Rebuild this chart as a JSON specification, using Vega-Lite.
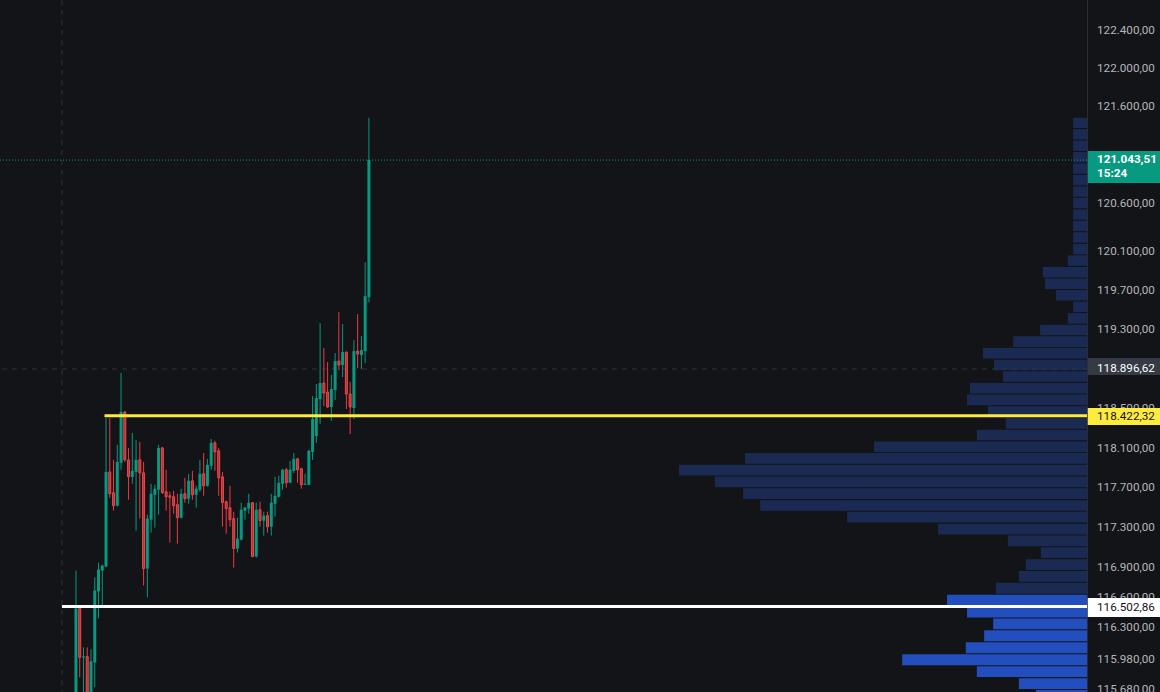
{
  "$schema": "https://vega.github.io/schema/vega-lite/v6.json",
  "width": 1087,
  "height": 692,
  "autosize": {"type": "none"},
  "padding": {"left": 0, "top": 0, "right": 73, "bottom": 0},
  "background": "#131417",
  "datasets": {
    "candles": [
      {"i":1,"o":115500,"h":116862,"l":115450,"c":116483},
      {"i":2,"o":116483,"h":116490,"l":115798,"c":115997},
      {"i":3,"o":115995,"h":116096,"l":115600,"c":116006},
      {"i":4,"o":116006,"h":116096,"l":115500,"c":115550},
      {"i":5,"o":115550,"h":116076,"l":115500,"c":115957},
      {"i":6,"o":115947,"h":116793,"l":115700,"c":116663},
      {"i":7,"o":116653,"h":116942,"l":116384,"c":116872},
      {"i":8,"o":116862,"h":116922,"l":116493,"c":116912},
      {"i":9,"o":116902,"h":118399,"l":116895,"c":117853},
      {"i":10,"o":117853,"h":118399,"l":117593,"c":117633},
      {"i":11,"o":117643,"h":117975,"l":117463,"c":117513},
      {"i":12,"o":117513,"h":118127,"l":117505,"c":117955},
      {"i":13,"o":117945,"h":118856,"l":117875,"c":118460},
      {"i":14,"o":118460,"h":118470,"l":117955,"c":117975},
      {"i":15,"o":117975,"h":118096,"l":117573,"c":117804},
      {"i":16,"o":117804,"h":118248,"l":117734,"c":117864},
      {"i":17,"o":117854,"h":118177,"l":117262,"c":117975},
      {"i":18,"o":117975,"h":118157,"l":117383,"c":117844},
      {"i":19,"o":117844,"h":117955,"l":116713,"c":116882},
      {"i":20,"o":116882,"h":117423,"l":116593,"c":117383},
      {"i":21,"o":117373,"h":117734,"l":117242,"c":117633},
      {"i":22,"o":117623,"h":117724,"l":117292,"c":117684},
      {"i":23,"o":117674,"h":118127,"l":117423,"c":118096},
      {"i":24,"o":118096,"h":118106,"l":117633,"c":117643},
      {"i":25,"o":117653,"h":117875,"l":117463,"c":117603},
      {"i":26,"o":117613,"h":117653,"l":117142,"c":117598},
      {"i":27,"o":117603,"h":117663,"l":117433,"c":117513},
      {"i":28,"o":117523,"h":117633,"l":117132,"c":117393},
      {"i":29,"o":117393,"h":117684,"l":117383,"c":117633},
      {"i":30,"o":117633,"h":117794,"l":117543,"c":117583},
      {"i":31,"o":117583,"h":117834,"l":117533,"c":117764},
      {"i":32,"o":117764,"h":117864,"l":117573,"c":117623},
      {"i":33,"o":117623,"h":117714,"l":117493,"c":117684},
      {"i":34,"o":117674,"h":117975,"l":117653,"c":117834},
      {"i":35,"o":117834,"h":118046,"l":117613,"c":117714},
      {"i":36,"o":117714,"h":117985,"l":117704,"c":117925},
      {"i":37,"o":117915,"h":118187,"l":117875,"c":118147},
      {"i":38,"o":118147,"h":118167,"l":117864,"c":118056},
      {"i":39,"o":118066,"h":118096,"l":117613,"c":117794},
      {"i":40,"o":117804,"h":117854,"l":117302,"c":117543},
      {"i":41,"o":117553,"h":117563,"l":117232,"c":117483},
      {"i":42,"o":117493,"h":117714,"l":117302,"c":117373},
      {"i":43,"o":117383,"h":117453,"l":116892,"c":117082},
      {"i":44,"o":117082,"h":117393,"l":117042,"c":117182},
      {"i":45,"o":117172,"h":117543,"l":117165,"c":117473},
      {"i":46,"o":117463,"h":117503,"l":117373,"c":117493},
      {"i":47,"o":117483,"h":117633,"l":117433,"c":117543},
      {"i":48,"o":117543,"h":117550,"l":116995,"c":117002},
      {"i":49,"o":117002,"h":117543,"l":116992,"c":117473},
      {"i":50,"o":117473,"h":117553,"l":117302,"c":117363},
      {"i":51,"o":117363,"h":117453,"l":117212,"c":117413},
      {"i":52,"o":117413,"h":117453,"l":117242,"c":117302},
      {"i":53,"o":117302,"h":117633,"l":117212,"c":117543},
      {"i":54,"o":117533,"h":117804,"l":117403,"c":117613},
      {"i":55,"o":117603,"h":117814,"l":117595,"c":117744},
      {"i":56,"o":117734,"h":117885,"l":117674,"c":117875},
      {"i":57,"o":117875,"h":117895,"l":117694,"c":117744},
      {"i":58,"o":117744,"h":117965,"l":117740,"c":117875},
      {"i":59,"o":117864,"h":118046,"l":117844,"c":117985},
      {"i":60,"o":117985,"h":117995,"l":117744,"c":117875},
      {"i":61,"o":117885,"h":117895,"l":117684,"c":117724},
      {"i":62,"o":117724,"h":117834,"l":117720,"c":117734},
      {"i":63,"o":117724,"h":118076,"l":117720,"c":118066},
      {"i":64,"o":118056,"h":118622,"l":117975,"c":118389},
      {"i":65,"o":118217,"h":118743,"l":118147,"c":118601},
      {"i":66,"o":118591,"h":119365,"l":118338,"c":118753},
      {"i":67,"o":118753,"h":119110,"l":118520,"c":118652},
      {"i":68,"o":118662,"h":118967,"l":118500,"c":118510},
      {"i":69,"o":118510,"h":118835,"l":118369,"c":118693},
      {"i":70,"o":118683,"h":119059,"l":118581,"c":118977},
      {"i":71,"o":118977,"h":119477,"l":118886,"c":118937},
      {"i":72,"o":118937,"h":119355,"l":118815,"c":119069},
      {"i":73,"o":119069,"h":119075,"l":118490,"c":118642},
      {"i":74,"o":118642,"h":118764,"l":118237,"c":118510},
      {"i":75,"o":118500,"h":119191,"l":118389,"c":119079},
      {"i":76,"o":119079,"h":119457,"l":118906,"c":119049},
      {"i":77,"o":119039,"h":119232,"l":118896,"c":119089},
      {"i":78,"o":119079,"h":119988,"l":118957,"c":119640},
      {"i":79,"o":119630,"h":121483,"l":119579,"c":121043.51}
    ],
    "profile": [
      {"hi":121483,"lo":121375,"vol":3.4,"zone":"main"},
      {"hi":121364,"lo":121256,"vol":3.4,"zone":"main"},
      {"hi":121246,"lo":121138,"vol":3.4,"zone":"main"},
      {"hi":121127,"lo":121019,"vol":3.4,"zone":"main"},
      {"hi":121009,"lo":120901,"vol":3.4,"zone":"main"},
      {"hi":120890,"lo":120782,"vol":3.4,"zone":"main"},
      {"hi":120771,"lo":120663,"vol":3.4,"zone":"main"},
      {"hi":120653,"lo":120545,"vol":3.4,"zone":"main"},
      {"hi":120534,"lo":120426,"vol":3.4,"zone":"main"},
      {"hi":120416,"lo":120308,"vol":3.4,"zone":"main"},
      {"hi":120297,"lo":120189,"vol":3.4,"zone":"main"},
      {"hi":120178,"lo":120070,"vol":3.4,"zone":"main"},
      {"hi":120060,"lo":119952,"vol":4.7,"zone":"main"},
      {"hi":119941,"lo":119833,"vol":10.8,"zone":"main"},
      {"hi":119823,"lo":119715,"vol":10.3,"zone":"main"},
      {"hi":119704,"lo":119596,"vol":7.6,"zone":"main"},
      {"hi":119585,"lo":119477,"vol":3.4,"zone":"main"},
      {"hi":119467,"lo":119359,"vol":4.7,"zone":"main"},
      {"hi":119348,"lo":119240,"vol":11.5,"zone":"main"},
      {"hi":119230,"lo":119122,"vol":18.1,"zone":"main"},
      {"hi":119111,"lo":119003,"vol":25.5,"zone":"main"},
      {"hi":118992,"lo":118884,"vol":22.8,"zone":"main"},
      {"hi":118874,"lo":118766,"vol":20.6,"zone":"main"},
      {"hi":118755,"lo":118647,"vol":28.7,"zone":"main"},
      {"hi":118637,"lo":118529,"vol":29.4,"zone":"main"},
      {"hi":118518,"lo":118410,"vol":24.3,"zone":"main"},
      {"hi":118399,"lo":118291,"vol":19.9,"zone":"main"},
      {"hi":118281,"lo":118173,"vol":27.0,"zone":"main"},
      {"hi":118162,"lo":118054,"vol":52.2,"zone":"main"},
      {"hi":118044,"lo":117936,"vol":83.8,"zone":"main"},
      {"hi":117925,"lo":117817,"vol":100,"zone":"main"},
      {"hi":117806,"lo":117698,"vol":91.2,"zone":"main"},
      {"hi":117688,"lo":117580,"vol":84.3,"zone":"main"},
      {"hi":117569,"lo":117461,"vol":80.1,"zone":"main"},
      {"hi":117451,"lo":117343,"vol":58.8,"zone":"main"},
      {"hi":117332,"lo":117224,"vol":36.5,"zone":"main"},
      {"hi":117213,"lo":117105,"vol":19.4,"zone":"main"},
      {"hi":117095,"lo":116987,"vol":11.3,"zone":"main"},
      {"hi":116976,"lo":116868,"vol":15.0,"zone":"main"},
      {"hi":116858,"lo":116750,"vol":16.7,"zone":"main"},
      {"hi":116739,"lo":116631,"vol":22.3,"zone":"main"},
      {"hi":116620,"lo":116512,"vol":34.3,"zone":"lower"},
      {"hi":116502,"lo":116394,"vol":29.4,"zone":"lower"},
      {"hi":116383,"lo":116275,"vol":23.0,"zone":"lower"},
      {"hi":116265,"lo":116157,"vol":25.2,"zone":"lower"},
      {"hi":116146,"lo":116038,"vol":29.7,"zone":"lower"},
      {"hi":116027,"lo":115919,"vol":45.3,"zone":"lower"},
      {"hi":115909,"lo":115801,"vol":27.0,"zone":"lower"},
      {"hi":115790,"lo":115682,"vol":16.7,"zone":"lower"},
      {"hi":115672,"lo":115564,"vol":12.5,"zone":"lower"}
    ],
    "ticks": [
      {"p":122400},{"p":122000},{"p":121600},{"p":121100},{"p":120600},{"p":120100},{"p":119700},{"p":119300},
      {"p":118500},{"p":118100},{"p":117700},{"p":117300},{"p":116900},{"p":116600},{"p":116300},{"p":115980},{"p":115680}
    ],
    "levels": [
      {"kind":"cross","p":118896.62},
      {"kind":"last","p":121043.51}
    ],
    "tags": [
      {"kind":"last","lo":120806,"hi":121137},
      {"kind":"cross","lo":118835,"hi":119008},
      {"kind":"high","lo":118327,"hi":118500},
      {"kind":"low","lo":116398,"hi":116587}
    ],
    "labels": [
      {"kind":"last","p":121054,"t":"121.043,51"},
      {"kind":"last","p":120909,"t":"15:24"},
      {"kind":"cross","p":118906,"t":"118.896,62"},
      {"kind":"high","p":118422.32,"t":"118.422,32"},
      {"kind":"low","p":116502.86,"t":"116.502,86"}
    ],
    "one": [{"a": 1}]
  },
  "layer": [
    {
      "data": {"name": "profile"},
      "mark": {"type": "rect"},
      "encoding": {
        "y": {"field": "lo", "type": "quantitative",
              "scale": {"type": "log", "domain": [115653, 122714], "nice": false, "zero": false, "padding": 0},
              "axis": null},
        "y2": {"field": "hi"},
        "x": {"field": "vol", "type": "quantitative", "scale": {"domain": [0, 266.4], "reverse": true, "nice": false, "zero": false, "padding": 0}, "axis": null},
        "x2": {"datum": 0},
        "color": {"field": "zone", "type": "nominal", "scale": {"domain": ["main", "lower"], "range": ["#1b2a53", "#234fbe"]}, "legend": null}
      }
    },
    {
      "layer": [
        {
          "data": {"name": "ticks"},
          "mark": {"type": "text", "align": "left", "baseline": "middle", "font": "Roboto", "fontSize": 11.7, "color": "#b2b5be"},
          "encoding": {
            "x": {"datum": 272.86, "type": "quantitative", "scale": {"domain": [-19.23, 270.2], "nice": false, "zero": false, "padding": 0}, "axis": null},
            "y": {"field": "p", "type": "quantitative", "scale": {"type": "log", "domain": [115653, 122714], "nice": false, "zero": false, "padding": 0}, "axis": null},
            "text": {"field": "p", "type": "quantitative", "format": ",.2f"}
          }
        },
        {
          "data": {"name": "one"},
          "mark": {"type": "rule", "color": "#2b2d33", "strokeWidth": 1},
          "encoding": {
            "x": {"datum": 270.33, "type": "quantitative", "scale": {"domain": [-19.23, 270.2], "nice": false, "zero": false, "padding": 0}, "axis": null}
          }
        },
        {
          "data": {"name": "one"},
          "mark": {"type": "rule", "color": "#2f323a", "strokeDash": [5, 5], "strokeWidth": 1},
          "encoding": {
            "x": {"datum": -2.73, "type": "quantitative", "scale": {"domain": [-19.23, 270.2], "nice": false, "zero": false, "padding": 0}, "axis": null}
          }
        },
        {
          "data": {"name": "levels"},
          "transform": [{"filter": "datum.kind == 'cross'"}],
          "mark": {"type": "rule", "color": "#2f323a", "strokeDash": [5, 5], "strokeWidth": 1},
          "encoding": {
            "y": {"field": "p", "type": "quantitative", "scale": {"type": "log", "domain": [115653, 122714], "nice": false, "zero": false, "padding": 0}, "axis": null}
          }
        },
        {
          "data": {"name": "levels"},
          "transform": [{"filter": "datum.kind == 'last'"}],
          "mark": {"type": "rule", "color": "#089981", "strokeDash": [1, 2], "strokeWidth": 1},
          "encoding": {
            "y": {"field": "p", "type": "quantitative", "scale": {"type": "log", "domain": [115653, 122714], "nice": false, "zero": false, "padding": 0}, "axis": null}
          }
        },
        {
          "data": {"name": "candles"},
          "mark": {"type": "rule", "strokeWidth": 1},
          "encoding": {
            "x": {"field": "i", "type": "quantitative", "scale": {"domain": [-19.23, 270.2], "nice": false, "zero": false, "padding": 0}, "axis": null},
            "y": {"field": "l", "type": "quantitative", "scale": {"type": "log", "domain": [115653, 122714], "nice": false, "zero": false, "padding": 0}, "axis": null},
            "y2": {"field": "h"},
            "color": {"condition": {"test": "datum.c >= datum.o", "value": "#089981"}, "value": "#f23645"}
          }
        },
        {
          "data": {"name": "candles"},
          "transform": [{"filter": "datum.c >= datum.o"}],
          "mark": {"type": "bar", "width": 3, "color": "#089981"},
          "encoding": {
            "x": {"field": "i", "type": "quantitative", "scale": {"domain": [-19.23, 270.2], "nice": false, "zero": false, "padding": 0}, "axis": null},
            "y": {"field": "o", "type": "quantitative", "scale": {"type": "log", "domain": [115653, 122714], "nice": false, "zero": false, "padding": 0}, "axis": null},
            "y2": {"field": "c"}
          }
        },
        {
          "data": {"name": "candles"},
          "transform": [{"filter": "datum.c < datum.o"}],
          "mark": {"type": "bar", "width": 2, "fill": "#a7383b", "stroke": "#f0454a", "strokeWidth": 1},
          "encoding": {
            "x": {"field": "i", "type": "quantitative", "scale": {"domain": [-19.23, 270.2], "nice": false, "zero": false, "padding": 0}, "axis": null},
            "y": {"field": "o", "type": "quantitative", "scale": {"type": "log", "domain": [115653, 122714], "nice": false, "zero": false, "padding": 0}, "axis": null},
            "y2": {"field": "c"}
          }
        },
        {
          "data": {"name": "one"},
          "mark": {"type": "rule", "color": "#ffeb3b", "strokeWidth": 3},
          "encoding": {
            "x": {"datum": 8.6, "type": "quantitative", "scale": {"domain": [-19.23, 270.2], "nice": false, "zero": false, "padding": 0}, "axis": null},
            "x2": {"datum": 270.2},
            "y": {"datum": 118422.32, "type": "quantitative", "scale": {"type": "log", "domain": [115653, 122714], "nice": false, "zero": false, "padding": 0}, "axis": null}
          }
        },
        {
          "data": {"name": "one"},
          "mark": {"type": "rule", "color": "#ffffff", "strokeWidth": 3},
          "encoding": {
            "x": {"datum": -2.73, "type": "quantitative", "scale": {"domain": [-19.23, 270.2], "nice": false, "zero": false, "padding": 0}, "axis": null},
            "x2": {"datum": 270.2},
            "y": {"datum": 116502.86, "type": "quantitative", "scale": {"type": "log", "domain": [115653, 122714], "nice": false, "zero": false, "padding": 0}, "axis": null}
          }
        },
        {
          "data": {"name": "tags"},
          "mark": {"type": "rect"},
          "encoding": {
            "x": {"datum": 270.4, "type": "quantitative", "scale": {"domain": [-19.23, 270.2], "nice": false, "zero": false, "padding": 0}, "axis": null},
            "x2": {"datum": 289.7},
            "y": {"field": "lo", "type": "quantitative", "scale": {"type": "log", "domain": [115653, 122714], "nice": false, "zero": false, "padding": 0}, "axis": null},
            "y2": {"field": "hi"},
            "color": {"field": "kind", "type": "nominal", "scale": {"domain": ["last", "cross", "high", "low"], "range": ["#089981", "#363a45", "#ffeb3b", "#ffffff"]}, "legend": null}
          }
        },
        {
          "data": {"name": "labels"},
          "transform": [{"filter": "datum.kind == 'last'"}],
          "mark": {"type": "text", "align": "left", "baseline": "middle", "font": "Roboto", "fontSize": 11.7, "fontWeight": "bold", "color": "#ffffff"},
          "encoding": {
            "x": {"datum": 272.86, "type": "quantitative", "scale": {"domain": [-19.23, 270.2], "nice": false, "zero": false, "padding": 0}, "axis": null},
            "y": {"field": "p", "type": "quantitative", "scale": {"type": "log", "domain": [115653, 122714], "nice": false, "zero": false, "padding": 0}, "axis": null},
            "text": {"field": "t"}
          }
        },
        {
          "data": {"name": "labels"},
          "transform": [{"filter": "datum.kind != 'last'"}],
          "mark": {"type": "text", "align": "left", "baseline": "middle", "font": "Roboto", "fontSize": 11.7},
          "encoding": {
            "x": {"datum": 272.86, "type": "quantitative", "scale": {"domain": [-19.23, 270.2], "nice": false, "zero": false, "padding": 0}, "axis": null},
            "y": {"field": "p", "type": "quantitative", "scale": {"type": "log", "domain": [115653, 122714], "nice": false, "zero": false, "padding": 0}, "axis": null},
            "text": {"field": "t"},
            "fill": {"field": "kind", "type": "nominal", "scale": {"domain": ["cross", "high", "low"], "range": ["#ffffff", "#131417", "#131417"]}, "legend": null}
          }
        }
      ]
    }
  ],
  "resolve": {"scale": {"x": "independent", "color": "independent"}},
  "config": {"view": {"stroke": null}, "locale": {"number": {"decimal": ",", "thousands": ".", "grouping": [3], "currency": ["", ""]}}}
}
